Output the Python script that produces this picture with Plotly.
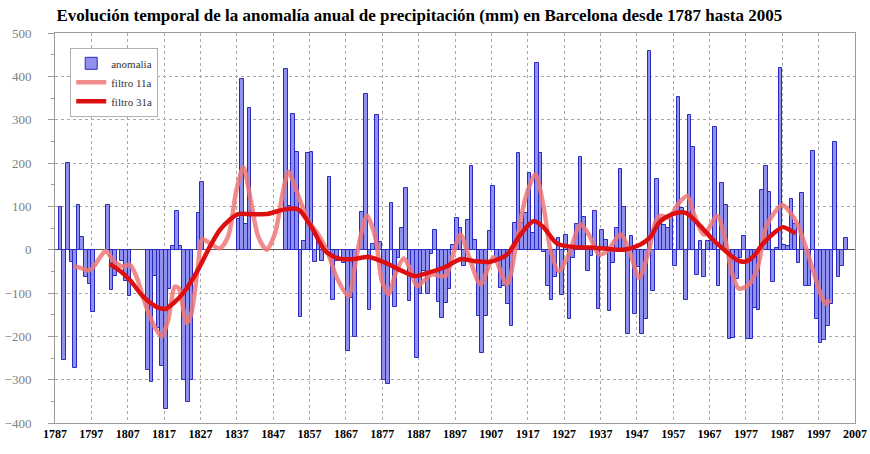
import plotly.graph_objects as go

# ---- Data ----
years = list(range(1788, 2005))  # bar years (217 bars)
anomalia = [
    99, -255, 200, -29, -274, 104, 30, -62, -80, -143,            # 1788-1797
    None, None, None, 104, -93, -60, None, -25, -72, -107,        # 1798-1807
    None, None, None, None, -278, -305, -60, -180, -268, -368,    # 1808-1817
    -90, 8, 89, 8, -300, -351, -300, None, 85, 157,               # 1818-1827
    None, None, None, None, None, None, None, None, None, 70,     # 1828-1837
    393, 60, 326, None, None, None, None, None, None, None,       # 1838-1847
    None, None, 418, 100, 313, 225, -155, 21, 223, 226,           # 1848-1857
    -28, 20, -25, None, 168, -117, -26, None, -30, -234,          # 1858-1867
    -111, -201, None, 87, 360, -140, 12, 311, 18, -301,           # 1868-1877
    -311, 108, -132, -20, 49, 142, -118, -60, -249, -103,         # 1878-1887
    -50, -103, -10, 45, -120, -157, -122, -90, 10, 72,            # 1888-1897
    51, -38, 68, 192, 22, -153, -238, -153, 43, 148,              # 1898-1907
    -20, -88, -84, -126, -176, 62, 223, 62, 85, 177,              # 1908-1917
    38, 430, 223, -5, -84, -115, -63, 26, -105, 35,               # 1918-1927
    -161, -20, 60, 214, 75, -49, -15, 89, -137, 45,               # 1928-1937
    22, -142, -30, 49, 186, 99, -195, 32, -149, -40,              # 1938-1947
    -195, -161, 458, -95, 162, 70, 58, 49, 80, -38,               # 1948-1957
    353, 97, -115, 311, 238, -58, 20, -63, 20, 20,                # 1958-1967
    282, -84, 155, 102, -207, -203, -68, -20, 31, -207,           # 1968-1977
    -207, -134, -140, 137, 192, 134, -74, 5, 420, 10,             # 1978-1987
    8, 118, 60, -30, 131, -84, -84, 228, -161, -215,              # 1988-1997
    -209, -176, -125, 248, -63, -38, 28                           # 1998-2004
]

f11_x = [1792, 1794, 1796.5, 1798, 1799.5, 1801, 1803, 1805.7, 1807.6, 1809.4,
         1812.1, 1814.4, 1816.3, 1818.1, 1820, 1821.1, 1823.2, 1824.5, 1826.4, 1827.5,
         1829.6, 1832.3, 1834.6, 1836.9, 1838.8, 1840.8, 1842.9, 1845.2, 1847.5, 1849.8,
         1851.2, 1853.2, 1856.7, 1859.4, 1862.2, 1864.5, 1867.7, 1870, 1872.8, 1875.1,
         1876.9, 1878.7, 1880.6, 1882.9, 1884.7, 1886.5, 1888.4, 1890.7, 1892.5, 1894.5,
         1896.5, 1898.5, 1901, 1904, 1907.6, 1911.3, 1914, 1916.4, 1919.1, 1921.4,
         1923.3, 1925.5, 1928.3, 1931.5, 1933.8, 1936.6, 1938.9, 1942.5, 1945.3, 1947.6,
         1950.3, 1952.2, 1953.5, 1955.8, 1958.6, 1960.9, 1962.7, 1965.5, 1969.1, 1971.4,
         1973.3, 1975.1, 1977.9, 1980.2, 1982.5, 1984.8, 1987, 1989.3, 1991.2, 1993.5,
         1995.8, 1997.6, 1999, 2000]
f11_y = [-38, -42, -48, -35, -16, -3, -24, -39, -35, -62,
         -132, -178, -200, -162, -85, -90, -170, -147, -32, 24,
         15, 3, 30, 138, 190, 115, 30, 0, 38, 138,
         180, 140, 66, 35, -11, -65, -107, -11, 78, 28,
         -72, -103, -57, -20, -45, -84, -72, -57, -60, -60,
         -10, 35, -20, -80, -18, -80, 20, 120, 174, 97,
         -3, -49, -11, 58, 35, -11, -3, 35, -11, -65,
         -3, 66, 78, 74, 108, 124, 82, 35, 78, 20,
         -57, -90, -80, -42, 51, 85, 103, 85, 58, 5,
         -57, -103, -125, -115]

f31_x = [1802, 1805, 1807.6, 1811.2, 1814.9, 1817.2, 1819.5, 1822.2, 1825, 1826.8,
         1829.6, 1832.3, 1834.9, 1837.4, 1841.1, 1845.7, 1850.2, 1853.9, 1857.6, 1861.3,
         1864.9, 1868.6, 1873.2, 1877.8, 1882.4, 1886.1, 1889.7, 1894.3, 1898.5, 1902.1,
         1906.7, 1911.3, 1915, 1918.7, 1921.4, 1925.1, 1929.7, 1934.3, 1938.9, 1943.5,
         1948, 1950.8, 1953.1, 1956.8, 1960.4, 1964.1, 1967.8, 1971.4, 1974.2, 1976.5,
         1978.8, 1981.5, 1984.8, 1987.2, 1989.8, 1990.7]
f31_y = [-33, -50, -70, -108, -132, -137, -124, -101, -66, -39,
         7, 45, 68, 82, 82, 83, 93, 93, 51, -3,
         -20, -22, -17, -30, -49, -61, -53, -40, -22, -26,
         -28, -11, 35, 66, 51, 14, 6, 5, 2, 0,
         12, 30, 62, 82, 85, 58, 24, -3, -22, -28,
         -18, 12, 39, 52, 42, 38]

x_ticks = list(range(1787, 2008, 10))
y_ticks = list(range(-400, 501, 100))

title_text = ("Evolución temporal de la anomalía anual de precipitación (mm) "
              "en Barcelona desde 1787 hasta 2005")

SERIF = "Liberation Serif, Times New Roman, serif"

fig = go.Figure()
fig.add_trace(go.Bar(
    x=years, y=anomalia, name="anomalia",
    offset=0, width=1,
    marker=dict(color="rgba(125,125,235,0.85)",
                line=dict(color="#2a2ac0", width=1)),
))
fig.add_trace(go.Scatter(
    x=f11_x, y=f11_y, name="filtro 11a", mode="lines",
    line=dict(color="rgba(240,120,120,0.85)", width=4.5, shape="spline", smoothing=0.8),
))
fig.add_trace(go.Scatter(
    x=f31_x, y=f31_y, name="filtro 31a", mode="lines",
    line=dict(color="#dc1010", width=4.5, shape="spline", smoothing=0.8),
))

fig.update_layout(
    width=870, height=454,
    margin=dict(l=55, r=15, t=33, b=31, autoexpand=False),
    paper_bgcolor="white", plot_bgcolor="white",
    bargap=0,
    title=dict(text=title_text, x=0.482, xanchor="center", y=0.967, yanchor="middle",
               font=dict(family=SERIF, size=17, color="black", weight="bold")),
    legend=dict(x=0.019, y=0.962, xanchor="left", yanchor="top",
                bgcolor="white", bordercolor="#b0b0b0", borderwidth=1,
                font=dict(family=SERIF, size=11, color="#333"),
                itemwidth=30, tracegroupgap=0),
    showlegend=True,
)
fig.update_xaxes(
    range=[1787, 2007], tickvals=x_ticks, ticktext=[str(v) for v in x_ticks],
    automargin=False,
    showgrid=True, gridcolor="#a8a8a8", griddash="dot", gridwidth=1,
    showline=True, linecolor="#9a9a9a", linewidth=1, mirror=True,
    ticks="", tickfont=dict(family=SERIF, size=12, color="black", weight="bold"),
    zeroline=False,
)
fig.update_yaxes(
    range=[-400, 500], tickvals=y_ticks,
    automargin=False,
    showgrid=True, gridcolor="#a8a8a8", griddash="dot", gridwidth=1,
    showline=True, linecolor="#9a9a9a", linewidth=1, mirror=True,
    ticks="outside", ticklen=6, tickcolor="#9a9a9a",
    minor=dict(dtick=50, ticks="outside", ticklen=3, tickcolor="#9a9a9a", showgrid=False),
    tickfont=dict(family=SERIF, size=13, color="#808080"),
    ticklabelstandoff=14,
    zeroline=True, zerolinecolor="#555", zerolinewidth=1,
)

fig.write_html("out.html",
               config={"displayModeBar": False},
               post_script="document.body.style.margin='0';document.body.style.overflow='hidden';")
